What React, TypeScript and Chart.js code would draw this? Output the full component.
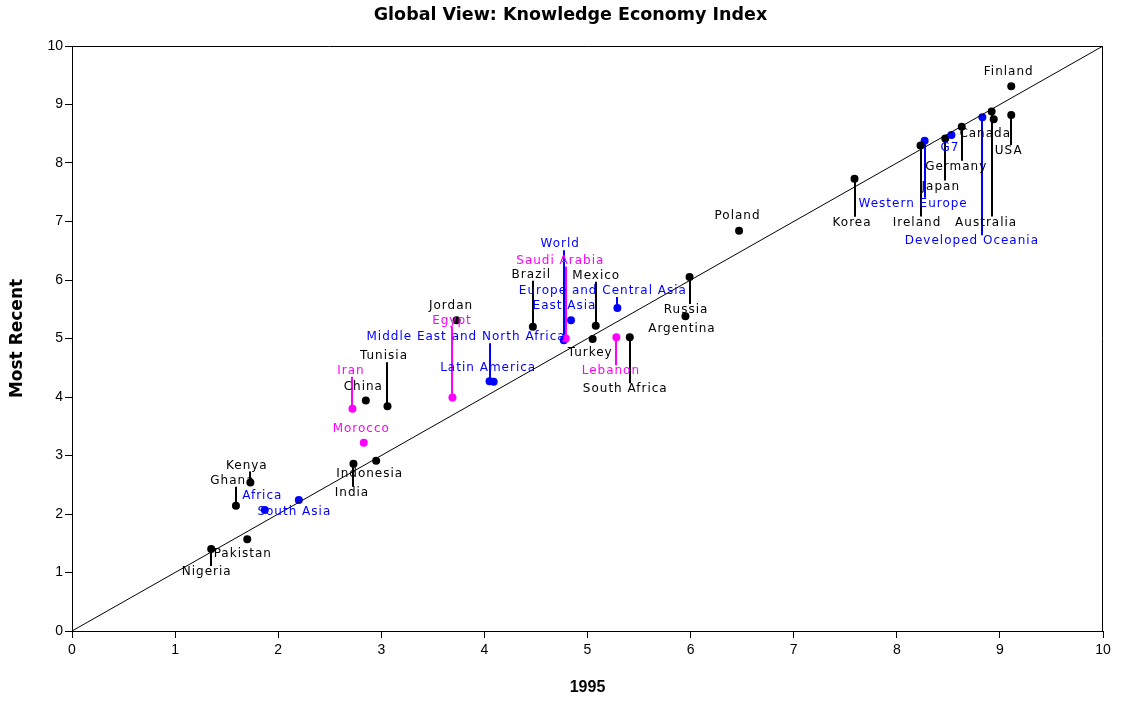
import React, { useEffect, useRef } from "react";
import { Chart, registerables } from "chart.js";

Chart.register(...registerables);

// ---- Data ----
const names = [
  "Finland", "USA", "Canada", "Australia", "Developed Oceania", "Germany", "Japan", "G7",
  "Western Europe", "Ireland", "Korea", "Poland", "Russia", "Argentina", "Mexico",
  "Europe and Central Asia", "Turkey", "Lebanon", "South Africa", "World", "Saudi Arabia",
  "Brazil", "East Asia", "Jordan", "Egypt", "Middle East and North Africa", "Latin America",
  "Tunisia", "China", "Iran", "Morocco", "Indonesia", "India", "Kenya", "Ghana", "Africa",
  "South Asia", "Pakistan", "Nigeria",
];
const kei1995 = [
  9.11, 9.11, 8.94, 8.92, 8.83, 8.63, 8.47, 8.53,
  8.27, 8.23, 7.59, 6.47, 5.99, 5.95, 5.08,
  5.29, 5.05, 5.28, 5.41, 4.77, 4.79,
  4.47, 4.84, 3.73, 3.69, 4.05, 4.09,
  3.06, 2.85, 2.72, 2.83, 2.95, 2.73, 1.73, 1.59, 1.87,
  2.20, 1.70, 1.35,
];
const keiRecent = [
  9.31, 8.82, 8.75, 8.88, 8.78, 8.62, 8.42, 8.48,
  8.38, 8.30, 7.73, 6.84, 6.05, 5.38, 5.22,
  5.52, 4.99, 5.02, 5.02, 4.97, 5.00,
  5.20, 5.31, 5.31, 3.99, 4.27, 4.26,
  3.84, 3.94, 3.80, 3.22, 2.91, 2.86, 2.54, 2.14, 2.07,
  2.24, 1.57, 1.40,
];
// c = country, a = Arab country, r = region/aggregate
const groups = [
  "c", "c", "c", "c", "r", "c", "c", "r",
  "r", "c", "c", "c", "c", "c", "c",
  "r", "c", "a", "c", "r", "a",
  "c", "r", "c", "a", "r", "r",
  "c", "c", "a", "a", "c", "c", "c", "c", "r",
  "r", "c", "c",
];
const xTicks = [0, 1, 2, 3, 4, 5, 6, 7, 8, 9, 10];
const yTicks = [0, 1, 2, 3, 4, 5, 6, 7, 8, 9, 10];

// ---- Label placement (pixel offsets from the marker) ----
const labelDx = [
  -3, -3, -9, -6, -11, -6, -5, -2,
  -12, -4, -3, -2, -4, -4, 0,
  -15, -3, -6, -5, -4, -6,
  -2, -7, -6, -1, -24, -6,
  -4, -3, -2, -3, -7, -2, -4, -4, -3,
  -5, -5, -5,
];
const labelDy = [
  -14, 36, 15, 111, 124, 40, 48, 13,
  63, 77, 44, -15, 33, 13, -50,
  -17, 14, 34, 52, -96, -78,
  -52, -14, -14, -77, -44, -14,
  -50, -14, -38, -14, 13, 29, -17, -25, -14,
  12, 15, 23,
];

const groupColor: Record<string, string> = { c: "#000000", a: "#FF00FF", r: "#0000FF" };

const labelFont = '12px "DejaVu Sans", sans-serif';

const annotatePlugin = {
  id: "annotate",
  beforeDatasetsDraw(chart: any) {
    const { ctx, scales } = chart;
    ctx.save();
    // frame (top and right)
    const a = chart.chartArea;
    ctx.strokeStyle = "#000";
    ctx.lineWidth = 1;
    ctx.beginPath();
    ctx.moveTo(a.left, a.top + 0.5);
    ctx.lineTo(a.right - 0.5, a.top + 0.5);
    ctx.lineTo(a.right - 0.5, a.bottom);
    ctx.stroke();
    // leader lines
    ctx.lineWidth = 2;
    for (let i = 0; i < names.length; i++) {
      const dy = labelDy[i];
      if (Math.abs(dy) < 16) continue;
      const px = scales.x.getPixelForValue(kei1995[i]);
      const py = scales.y.getPixelForValue(keiRecent[i]);
      const end = py + dy - Math.sign(dy) * 6;
      ctx.strokeStyle = groupColor[groups[i]];
      ctx.beginPath();
      ctx.moveTo(Math.round(px), py);
      ctx.lineTo(Math.round(px), end);
      ctx.stroke();
    }
    ctx.restore();
  },
  afterDatasetsDraw(chart: any) {
    const { ctx, scales } = chart;
    ctx.save();
    ctx.font = labelFont;
    try { (ctx as any).letterSpacing = "1px"; } catch (e) { /* ignore */ }
    ctx.textAlign = "center";
    ctx.textBaseline = "middle";
    for (let i = 0; i < names.length; i++) {
      const px = scales.x.getPixelForValue(kei1995[i]);
      const py = scales.y.getPixelForValue(keiRecent[i]);
      ctx.fillStyle = groupColor[groups[i]];
      ctx.fillText(names[i], px + labelDx[i] + 0.5, py + labelDy[i]);
    }
    ctx.restore();
  },
};

export default function App() {
  const ref = useRef<HTMLCanvasElement | null>(null);
  useEffect(() => {
    if (!ref.current) return;
    const points = names.map((_, i) => ({ x: kei1995[i], y: keiRecent[i] }));
    const chart = new Chart(ref.current, {
      type: "scatter",
      data: {
        datasets: [
          {
            type: "line",
            label: "45° line",
            data: [
              { x: xTicks[0], y: yTicks[0] },
              { x: xTicks[xTicks.length - 1], y: yTicks[yTicks.length - 1] },
            ],
            borderColor: "#000",
            borderWidth: 1,
            pointRadius: 0,
            fill: false,
          } as any,
          {
            label: "KEI",
            data: points,
            pointRadius: 4,
            pointHoverRadius: 4,
            pointBorderWidth: 0,
            pointBackgroundColor: groups.map((g) => groupColor[g]),
            pointBorderColor: groups.map((g) => groupColor[g]),
          },
        ],
      },
      options: {
        responsive: false,
        animation: false,
        devicePixelRatio: 1,
        layout: { padding: { top: 0, right: 18, bottom: 0, left: 38 } },
        plugins: {
          legend: { display: false },
          tooltip: { enabled: false },
          title: {
            display: true,
            text: "Global View: Knowledge Economy Index",
            color: "#000",
            font: { family: '"DejaVu Sans", sans-serif', size: 17.5, weight: "bold" },
            padding: { top: 5, bottom: 20 },
          },
        },
        scales: {
          x: {
            type: "linear",
            min: 0,
            max: 10,
            afterFit: (s: any) => { s.height = 71; },
            afterBuildTicks: (s: any) => { s.ticks = xTicks.map((v) => ({ value: v })); },
            ticks: {
              color: "#000",
              padding: 4,
              font: { family: '"Liberation Sans", Arial, sans-serif', size: 14 },
            },
            grid: { drawOnChartArea: false, drawTicks: true, tickLength: 7, color: "#000" },
            border: { display: true, color: "#000", width: 1 },
            title: {
              display: true,
              text: "1995",
              color: "#000",
              font: { family: '"Liberation Sans", Arial, sans-serif', size: 16, weight: "bold" },
              padding: { top: 0, bottom: 5 },
            },
          },
          y: {
            type: "linear",
            min: 0,
            max: 10,
            afterFit: (s: any) => { s.width = 34; },
            afterBuildTicks: (s: any) => { s.ticks = yTicks.map((v) => ({ value: v })); },
            ticks: {
              color: "#000",
              padding: 2,
              font: { family: '"Liberation Sans", Arial, sans-serif', size: 14 },
            },
            grid: { drawOnChartArea: false, drawTicks: true, tickLength: 7, color: "#000" },
            border: { display: true, color: "#000", width: 1 },
            title: {
              display: true,
              text: "Most Recent",
              color: "#000",
              font: { family: '"DejaVu Sans", sans-serif', size: 17, weight: "bold" },
              padding: { top: -31, bottom: 0 },
            },
          },
        },
      },
      plugins: [annotatePlugin],
    });
    return () => chart.destroy();
  }, []);
  return (
    <div style={{ position: "fixed", left: 0, top: 0, width: 1121, height: 702, background: "#fff" }}>
      <canvas ref={ref} width={1121} height={702} />
    </div>
  );
}
